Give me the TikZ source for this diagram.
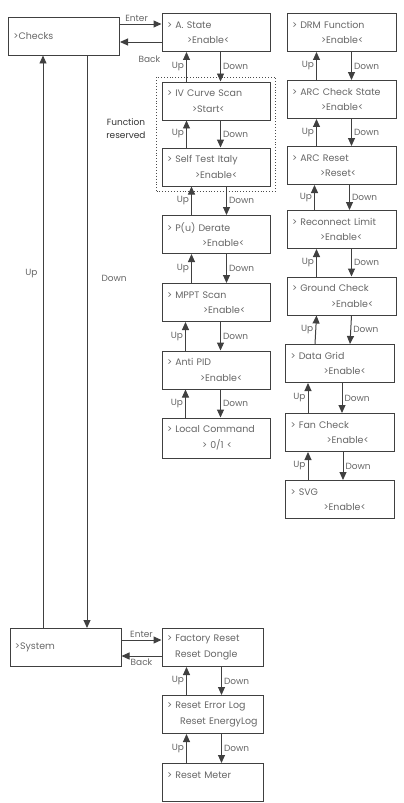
\documentclass[tikz,border=0pt]{standalone}
\usepackage{fontspec}
\setmainfont{Poppins}
\usetikzlibrary{positioning,arrows.meta,fit}
\tikzset{
  menu/.style={draw=black!75,line width=1pt,minimum height=38bp,inner xsep=5bp,inner ysep=2bp,
    align=left,text=black!60,font=\fontsize{9.5}{15.5}\selectfont},
  midbox/.style={menu,text width=98bp},
  rgtbox/.style={menu,text width=99bp},
  botbox/.style={menu,text width=91bp},
  topbox/.style={menu,text width=101bp},
  nav/.style={-{Triangle[length=8bp,width=7bp]},line width=1pt,draw=black!75},
  navlbl/.style={text=black!60,font=\fontsize{9}{10}\selectfont,inner sep=2bp},
  resv/.style={draw=black!70,dotted,line width=0.9pt,inner xsep=5bp,inner ysep=4.5bp},
}

\begin{document}
\begin{tikzpicture}[x=1bp,y=-1bp]
  \useasboundingbox (0,0) rectangle (403,803);
  % ---- left side ----
  \node[topbox] (checks) at (64,36) {>Checks};
  \node[topbox] (system) at (65.5,647.5) {>System};
  % ---- middle column ----
  \node[midbox] (ast)  at (216,32.5) {> A. State\\\hspace*{20bp}>Enable<};
  \node[midbox] (ivs)  at (216,101)  {> IV Curve Scan\\\hspace*{25bp}>Start<};
  \node[midbox] (stit) at (216,167)  {> Self Test Italy\\\hspace*{28bp}>Enable<};
  \node[midbox] (pud)  at (216,234.5) {> P(u) Derate\\\hspace*{35bp}>Enable<};
  \node[midbox] (mppt) at (216,302.5) {> MPPT Scan\\\hspace*{36bp}>Enable<};
  \node[midbox] (apid) at (216,370)  {> Anti PID\\\hspace*{33bp}>Enable<};
  \node[midbox,minimum height=40bp] (lcmd) at (216,438) {> Local Command\\\hspace*{35bp}> 0/1 <};
  \node[resv,fit=(ivs)(stit)] (rsv) {};
  \node[text=black!80,font=\fontsize{9}{13}\selectfont,align=center,left=7bp of rsv,yshift=5bp] (rsvlbl)
    {Function\\reserved};
  % ---- right column ----
  \node[rgtbox] (drm)   at (341.5,32.5)  {> DRM Function\\\hspace*{29bp}>Enable<};
  \node[rgtbox] (arcc)  at (341.5,99.5)  {> ARC Check State\\\hspace*{29bp}>Enable<};
  \node[rgtbox] (arcr)  at (341.5,165.5) {> ARC Reset\\\hspace*{28bp}>Reset<};
  \node[rgtbox] (rlim)  at (341.5,229.5) {> Reconnect Limit\\\hspace*{28bp}>Enable<};
  \node[rgtbox] (gchk)  at (341.5,296)   {> Ground Check\\\hspace*{39bp}>Enable<};
  \node[rgtbox] (dgrid) at (340,363.5)   {> Data Grid\\\hspace*{33bp}>Enable<};
  \node[rgtbox] (fchk)  at (340,432.5)   {> Fan Check\\\hspace*{36bp}>Enable<};
  \node[rgtbox] (svg)   at (340,499.5)   {> SVG\\\hspace*{33bp}>Enable<};
  % ---- bottom column ----
  \node[botbox] (frst) at (212.5,647.5) {> Factory Reset\\\hspace*{8bp}Reset Dongle};
  \node[botbox] (rerr) at (212.5,714.5) {> Reset Error Log\\\hspace*{13bp}Reset EnergyLog};
  \node[botbox] (rmet) at (212.5,782.5) {> Reset Meter\\\mbox{}};

  % enter / back
  \draw[nav] ([yshift=12bp]checks.east) -- ([yshift=12bp]checks.east -| ast.west)
    node[navlbl,pos=0.4,above]{Enter};
  \draw[nav] ([yshift=-6bp]checks.east -| ast.west) -- ([yshift=-6bp]checks.east)
    node[navlbl,pos=0.29,below=11bp]{Back};
  \draw[nav] ([yshift=7.5bp]system.east) -- ([yshift=7.5bp]system.east -| frst.west)
    node[navlbl,pos=0.5,above]{Enter};
  \draw[nav] ([yshift=-8.5bp]system.east -| frst.west) -- ([yshift=-8.5bp]system.east)
    node[navlbl,pos=0.5,below]{Back};

  % checks <-> system
  \draw[nav] ([xshift=-21bp]checks.south |- system.north) -- ([xshift=-21bp]checks.south)
    node[navlbl,pos=0.62,left=3bp]{Up};
  \draw[nav] ([xshift=23bp]checks.south) -- ([xshift=23bp]checks.south |- system.north)
    node[navlbl,pos=0.39,right=12bp]{Down};

  % up / down between menu items
  \foreach \a/\b/\u/\d in {ast/ivs/25bp/59bp, ivs/stit/25bp/59bp, stit/pud/30bp/65bp,
      pud/mppt/30bp/65bp, mppt/apid/24bp/59bp, apid/lcmd/24bp/59bp,
      drm/arcc/30bp/65bp, arcc/arcr/30bp/65bp, arcr/rlim/28bp/63bp, rlim/gchk/30bp/65bp,
      gchk/dgrid/30bp/65bp, dgrid/fchk/23bp/57bp, fchk/svg/23bp/58bp,
      frst/rerr/25bp/60bp, rerr/rmet/25bp/60bp}{
    \draw[nav] ([xshift=\u]\b.north west) -- ([xshift=\u]\a.south west |- \a.south)
      node[navlbl,midway,left]{Up};
    \draw[nav] ([xshift=\d]\a.south west) -- ([xshift=\d]\b.north west |- \b.north)
      node[navlbl,midway,right]{Down};
  }
\end{tikzpicture}
\end{document}
